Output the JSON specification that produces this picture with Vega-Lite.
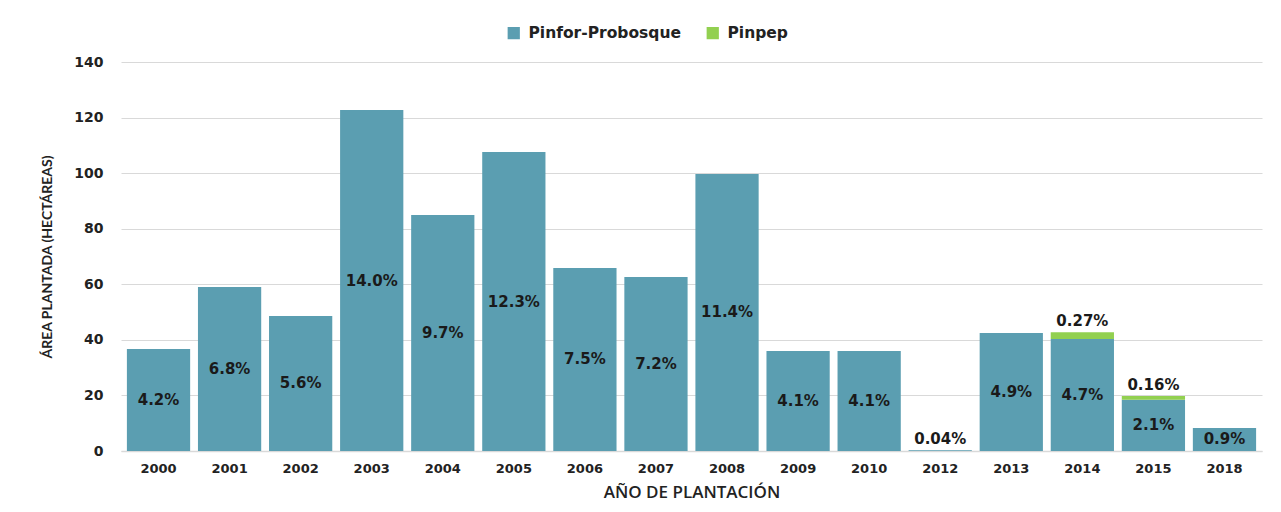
{
  "$schema": "https://vega.github.io/schema/vega-lite/v6.json",
  "autosize": {"type": "none"},
  "width": 1141,
  "height": 389,
  "padding": {"left": 121, "top": 62, "right": 19, "bottom": 61},
  "background": "white",
  "config": {
    "view": {"stroke": null},
    "font": "DejaVu Sans"
  },
  "data": {
    "values": [
      {"year": "2000", "series": "Pinfor-Probosque", "value": 36.7, "label": "4.2%"},
      {"year": "2001", "series": "Pinfor-Probosque", "value": 59.0, "label": "6.8%"},
      {"year": "2002", "series": "Pinfor-Probosque", "value": 48.6, "label": "5.6%"},
      {"year": "2003", "series": "Pinfor-Probosque", "value": 122.7, "label": "14.0%"},
      {"year": "2004", "series": "Pinfor-Probosque", "value": 84.9, "label": "9.7%"},
      {"year": "2005", "series": "Pinfor-Probosque", "value": 107.6, "label": "12.3%"},
      {"year": "2006", "series": "Pinfor-Probosque", "value": 65.9, "label": "7.5%"},
      {"year": "2007", "series": "Pinfor-Probosque", "value": 62.6, "label": "7.2%"},
      {"year": "2008", "series": "Pinfor-Probosque", "value": 99.7, "label": "11.4%"},
      {"year": "2009", "series": "Pinfor-Probosque", "value": 36.0, "label": "4.1%"},
      {"year": "2010", "series": "Pinfor-Probosque", "value": 36.0, "label": "4.1%"},
      {"year": "2012", "series": "Pinfor-Probosque", "value": 0.3, "label": "0.04%"},
      {"year": "2013", "series": "Pinfor-Probosque", "value": 42.5, "label": "4.9%"},
      {"year": "2014", "series": "Pinfor-Probosque", "value": 40.3, "label": "4.7%"},
      {"year": "2014", "series": "Pinpep", "value": 2.4, "label": "0.27%"},
      {"year": "2015", "series": "Pinfor-Probosque", "value": 18.4, "label": "2.1%"},
      {"year": "2015", "series": "Pinpep", "value": 1.4, "label": "0.16%"},
      {"year": "2018", "series": "Pinfor-Probosque", "value": 8.3, "label": "0.9%"}
    ]
  },
  "encoding": {
    "x": {
      "field": "year",
      "type": "ordinal",
      "scale": {"paddingInner": 0.11, "paddingOuter": 0.083},
      "axis": {
        "title": "AÑO DE PLANTACIÓN",
        "titleFont": "Open Sans",
        "titleFontSize": 17,
        "titleFontWeight": 600,
        "titleColor": "#222222",
        "titlePadding": 9,
        "labelAngle": 0,
        "labelFont": "DejaVu Sans",
        "labelFontSize": 13,
        "labelFontWeight": "bold",
        "labelColor": "#222222",
        "labelPadding": 11,
        "ticks": false,
        "domainColor": "#d9d9d9",
        "domainWidth": 1.5
      }
    }
  },
  "layer": [
    {
      "mark": {"type": "bar", "opacity": 1},
      "encoding": {
        "y": {
          "field": "value",
          "type": "quantitative",
          "stack": "zero",
          "scale": {"domain": [0, 140], "nice": false},
          "axis": {
            "title": "ÁREA PLANTADA (HECTÁREAS)",
            "titleFont": "Lato",
            "titleFontSize": 14,
            "titleFontWeight": "bold",
            "titleColor": "#222222",
            "titlePadding": 19,
            "values": [0, 20, 40, 60, 80, 100, 120, 140],
            "labelFont": "DejaVu Sans",
            "labelFontSize": 14,
            "labelFontWeight": "bold",
            "labelColor": "#222222",
            "labelPadding": 18,
            "ticks": false,
            "domain": false,
            "gridColor": "#d9d9d9",
            "gridWidth": 1
          }
        },
        "order": {"field": "series", "sort": "ascending"},
        "color": {
          "field": "series",
          "type": "nominal",
          "scale": {"domain": ["Pinfor-Probosque", "Pinpep"], "range": ["#5b9eb1", "#92d050"]},
          "legend": {
            "title": null,
            "orient": "none",
            "legendX": 385,
            "legendY": -37,
            "direction": "horizontal",
            "symbolType": "square",
            "symbolSize": 150,
            "symbolStrokeWidth": 0,
            "labelFont": "DejaVu Sans",
            "labelFontSize": 15.5,
            "labelFontWeight": "bold",
            "labelColor": "#222222",
            "columnPadding": 24,
            "labelOffset": 7
          }
        }
      }
    },
    {
      "transform": [{"filter": "datum.series == 'Pinfor-Probosque' && datum.year != '2012'"}],
      "mark": {"type": "text", "baseline": "middle", "align": "center", "font": "DejaVu Sans", "fontSize": 15, "fontWeight": "bold", "color": "#1a1a1a"},
      "encoding": {
        "y": {
          "field": "value",
          "type": "quantitative",
          "scale": {"domain": [0, 280], "nice": false},
          "axis": null
        },
        "text": {"field": "label"}
      }
    },
    {
      "mark": {"type": "text", "baseline": "bottom", "align": "center", "dy": -3, "font": "DejaVu Sans", "fontSize": 15, "fontWeight": "bold", "color": "#1a1a1a"},
      "encoding": {
        "y": {
          "field": "value",
          "type": "quantitative",
          "stack": "zero",
          "scale": {"domain": [0, 140], "nice": false},
          "axis": null
        },
        "order": {"field": "series", "sort": "ascending"},
        "detail": {"field": "series"},
        "text": {
          "condition": {"test": "datum.series == 'Pinpep' || datum.year == '2012'", "field": "label"},
          "value": ""
        }
      }
    }
  ],
  "resolve": {"scale": {"y": "independent"}}
}
